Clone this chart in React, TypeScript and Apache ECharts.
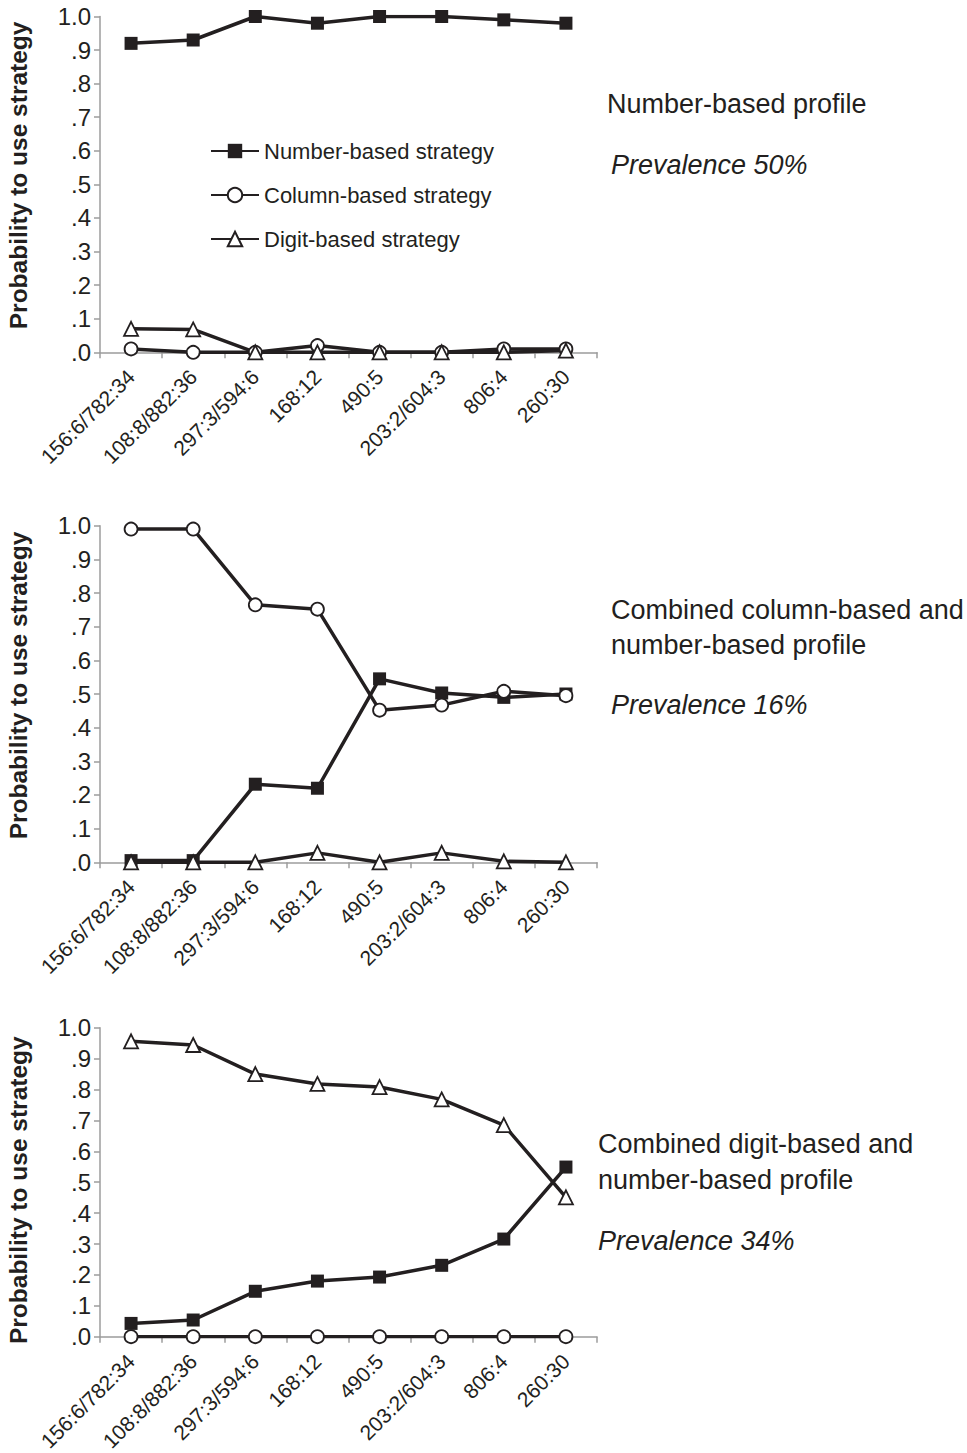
import React, { useEffect, useRef } from "react";
import * as echarts from "echarts";

const categories = ["156:6/782:34", "108:8/882:36", "297:3/594:6", "168:12", "490:5", "203:2/604:3", "806:4", "260:30"];
const seriesNames = ["Number-based strategy", "Column-based strategy", "Digit-based strategy"];

const p1Number = [0.92, 0.93, 1.0, 0.98, 1.0, 1.0, 0.99, 0.98];
const p1Column = [0.01, 0.0, 0.0, 0.02, 0.0, 0.0, 0.01, 0.01];
const p1Digit = [0.07, 0.068, 0.0, 0.0, 0.0, 0.0, 0.0, 0.005];

const p2Number = [0.005, 0.005, 0.232, 0.22, 0.545, 0.503, 0.49, 0.5];
const p2Column = [0.99, 0.99, 0.765, 0.752, 0.452, 0.467, 0.508, 0.495];
const p2Digit = [0.0, 0.0, 0.0, 0.028, 0.0, 0.028, 0.003, 0.0];

const p3Number = [0.043, 0.054, 0.147, 0.18, 0.193, 0.231, 0.316, 0.549];
const p3Column = [0.0, 0.0, 0.0, 0.0, 0.0, 0.0, 0.0, 0.0];
const p3Digit = [0.956, 0.944, 0.85, 0.818, 0.808, 0.768, 0.685, 0.451];

const yAxisName = "Probability to use strategy";

const profileTexts = [
  { lines: ["Number-based profile"], prevalence: "Prevalence 50%" },
  { lines: ["Combined column-based and", "number-based profile"], prevalence: "Prevalence 16%" },
  { lines: ["Combined digit-based and", "number-based profile"], prevalence: "Prevalence 34%" },
];

const FONT = "'Liberation Sans', Arial, Helvetica, sans-serif";
const INK = "#231f20";
const AXIS = "#9c9c9c";

export default function App() {
  const ref = useRef<HTMLDivElement>(null);

  useEffect(() => {
    if (!ref.current) return;
    const chart = echarts.init(ref.current, null, { renderer: "svg" });

    const grids = [
      { left: 100, width: 497, top: 16.5, height: 335.8, outerBoundsMode: "none", containLabel: false },
      { left: 100, width: 497, top: 525.7, height: 336.6, outerBoundsMode: "none", containLabel: false },
      { left: 100, width: 497, top: 1027.7, height: 309, outerBoundsMode: "none", containLabel: false },
    ];
    const namePadding = [
      [0, 0, 0, 18],
      [0, 0, 0, 17],
      [0, 16, 0, 0],
    ];

    const xAxes = grids.map((_, i) => ({
      type: "category",
      gridIndex: i,
      data: categories,
      boundaryGap: true,
      axisLine: { lineStyle: { color: AXIS, width: 1.5 } },
      axisTick: { show: true, interval: 0, length: 6, lineStyle: { color: AXIS, width: 1.5 } },
      axisLabel: {
        interval: 0,
        rotate: 45,
        margin: 21,
        color: INK,
        fontSize: 21,
        fontFamily: FONT,
      },
      splitLine: { show: false },
    }));

    const yAxes = grids.map((_, i) => ({
      type: "value",
      gridIndex: i,
      min: 0,
      max: 1,
      interval: 0.1,
      name: yAxisName,
      nameLocation: "middle",
      nameGap: 69,
      nameTextStyle: {
        color: INK,
        fontSize: 24.5,
        fontWeight: "bold",
        fontFamily: FONT,
        padding: namePadding[i],
      },
      axisLine: { show: true, lineStyle: { color: AXIS, width: 1.5 } },
      axisTick: { show: true, length: 6, lineStyle: { color: AXIS, width: 1.5 } },
      axisLabel: {
        color: INK,
        fontSize: 24,
        fontFamily: FONT,
        margin: 9,
        formatter: (v: number) => (Math.round(v * 10) === 10 ? "1.0" : "." + Math.round(v * 10)),
      },
      splitLine: { show: false },
    }));

    const mk = (name: string, data: number[], idx: number, kind: number) => {
      const base: any = {
        name,
        type: "line",
        xAxisIndex: idx,
        yAxisIndex: idx,
        data,
        lineStyle: { color: INK, width: 3.5 },
        emphasis: { disabled: true },
      };
      if (kind === 0) {
        base.symbol = "rect";
        base.symbolSize = 13;
        base.itemStyle = { color: INK, borderColor: INK, borderWidth: 0 };
      } else if (kind === 1) {
        base.symbol = "circle";
        base.symbolSize = 13;
        base.itemStyle = { color: "#ffffff", borderColor: INK, borderWidth: 1.8 };
      } else {
        base.symbol = "triangle";
        base.symbolSize = 14;
        base.itemStyle = { color: "#ffffff", borderColor: INK, borderWidth: 1.8 };
      }
      return base;
    };

    const series = [
      mk(seriesNames[0], p1Number, 0, 0),
      mk(seriesNames[1], p1Column, 0, 1),
      mk(seriesNames[2], p1Digit, 0, 2),
      mk(seriesNames[0], p2Number, 1, 0),
      mk(seriesNames[1], p2Column, 1, 1),
      mk(seriesNames[2], p2Digit, 1, 2),
      mk(seriesNames[0], p3Number, 2, 0),
      mk(seriesNames[1], p3Column, 2, 1),
      mk(seriesNames[2], p3Digit, 2, 2),
    ];

    const textPos = [
      { x: 607, lineYs: [104], prevX: 611, prevY: 165 },
      { x: 611, lineYs: [610, 645], prevX: 611, prevY: 705 },
      { x: 598, lineYs: [1144, 1180], prevX: 598, prevY: 1241 },
    ];

    const graphics: any[] = [];
    profileTexts.forEach((p, i) => {
      const pos = textPos[i];
      p.lines.forEach((line, j) => {
        graphics.push({
          type: "text",
          x: pos.x,
          y: pos.lineYs[j],
          silent: true,
          style: {
            text: line,
            fill: INK,
            fontSize: 27,
            fontFamily: FONT,
            verticalAlign: "middle",
            align: "left",
          },
        });
      });
      graphics.push({
        type: "text",
        x: pos.prevX,
        y: pos.prevY,
        silent: true,
        style: {
          text: p.prevalence,
          fill: INK,
          fontSize: 27,
          fontStyle: "italic",
          fontFamily: FONT,
          verticalAlign: "middle",
          align: "left",
        },
      });
    });

    chart.setOption({
      animation: false,
      backgroundColor: "#ffffff",
      grid: grids,
      xAxis: xAxes,
      yAxis: yAxes,
      legend: {
        data: seriesNames,
        orient: "vertical",
        left: 210,
        top: 140,
        padding: 0,
        itemWidth: 48,
        itemHeight: 18,
        itemGap: 22,
        selectedMode: false,
        textStyle: { color: INK, fontSize: 22, fontFamily: FONT },
      },
      series,
      graphic: graphics,
    });

    return () => chart.dispose();
  }, []);

  return (
    <div
      ref={ref}
      style={{ position: "absolute", left: 0, top: 0, width: 967, height: 1453, background: "#fff" }}
    />
  );
}
